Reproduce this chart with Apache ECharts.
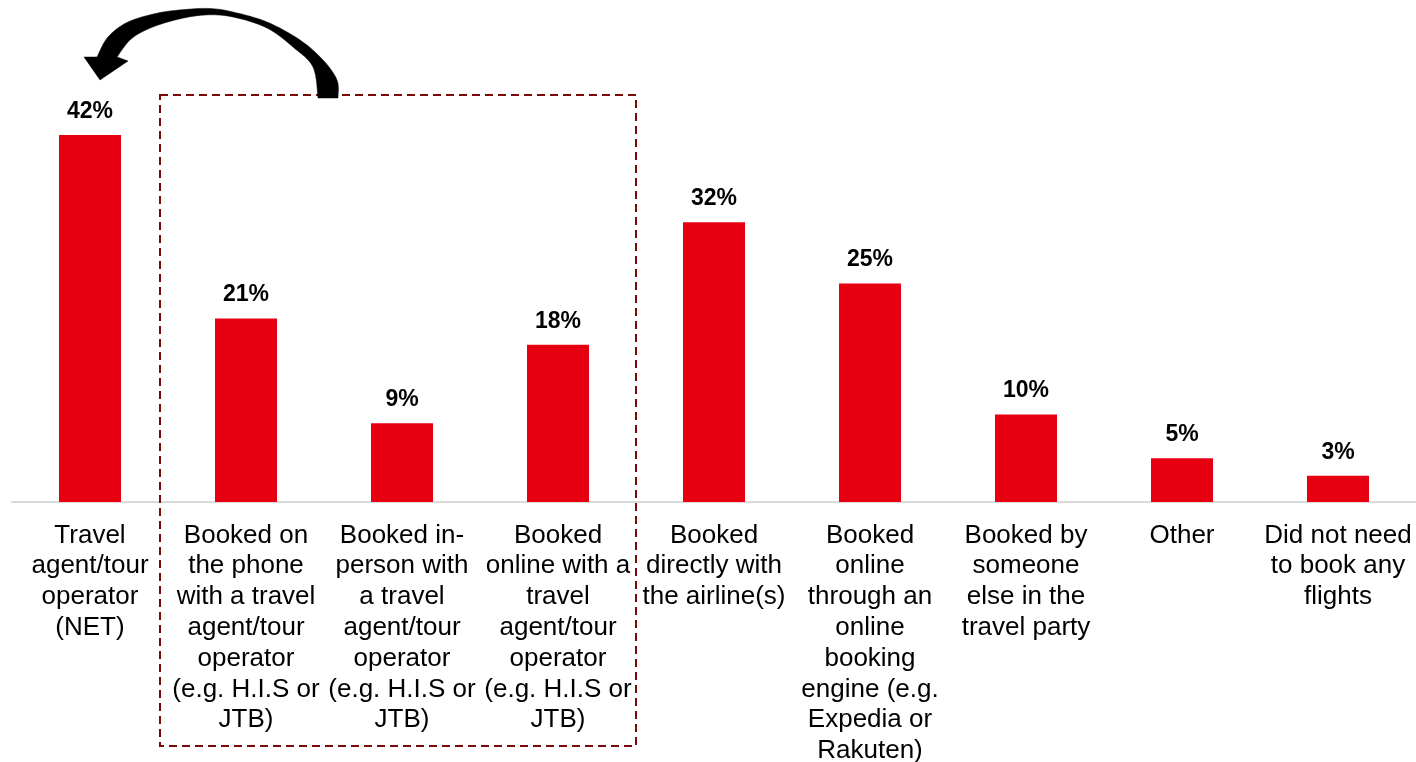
<!DOCTYPE html>
<html>
<head>
<meta charset="utf-8">
<script src="https://cdn.jsdelivr.net/npm/echarts@6/dist/echarts.min.js"></script>
<style>
  html, body { margin: 0; padding: 0; background: #ffffff; }
  #chart { width: 1416px; height: 762px; }
</style>
</head>
<body>
<div id="chart"></div>
<script>
// Booking channels for flights (share of respondents, %)
const categories = [
  'Travel\nagent/tour\noperator\n(NET)',
  'Booked on\nthe phone\nwith a travel\nagent/tour\noperator\n(e.g. H.I.S or\nJTB)',
  'Booked in-\nperson with\na travel\nagent/tour\noperator\n(e.g. H.I.S or\nJTB)',
  'Booked\nonline with a\ntravel\nagent/tour\noperator\n(e.g. H.I.S or\nJTB)',
  'Booked\ndirectly with\nthe airline(s)',
  'Booked\nonline\nthrough an\nonline\nbooking\nengine (e.g.\nExpedia or\nRakuten)',
  'Booked by\nsomeone\nelse in the\ntravel party',
  'Other',
  'Did not need\nto book any\nflights'
];
const shares = [42, 21, 9, 18, 32, 25, 10, 5, 3];

const FONT = '"Liberation Sans", Arial, sans-serif';
const chart = echarts.init(document.getElementById('chart'));

chart.setOption({
  animation: false,
  backgroundColor: '#ffffff',
  grid: {
    left: 12, right: 0, top: 65, bottom: 260,
    containLabel: false,
    outerBoundsMode: 'none'
  },
  xAxis: {
    type: 'category',
    data: categories,
    boundaryGap: true,
    axisLine: { show: true, lineStyle: { color: '#d9d9d9', width: 2 } },
    axisTick: { show: false },
    axisLabel: {
      interval: 0,
      margin: 18,
      color: '#000000',
      fontFamily: FONT,
      fontSize: 26,
      lineHeight: 30.8
    }
  },
  yAxis: {
    type: 'value',
    min: 0,
    max: 50,
    show: false,
    splitLine: { show: false }
  },
  series: [{
    type: 'bar',
    data: shares,
    barWidth: 62,
    itemStyle: { color: '#e60012' },
    label: {
      show: true,
      position: 'top',
      distance: 12,
      formatter: p => p.value + '%',
      color: '#000000',
      fontFamily: FONT,
      fontWeight: 'bold',
      fontSize: 23
    }
  }]
});

// Smooth a list of points with a Catmull-Rom spline
function spline(pts, steps) {
  const out = [];
  for (let i = 0; i < pts.length - 1; i++) {
    const p0 = pts[Math.max(i - 1, 0)], p1 = pts[i];
    const p2 = pts[i + 1], p3 = pts[Math.min(i + 2, pts.length - 1)];
    for (let s = 0; s < steps; s++) {
      const t = s / steps, t2 = t * t, t3 = t2 * t;
      out.push([0, 1].map(k => 0.5 * (
        2 * p1[k] + (-p0[k] + p2[k]) * t +
        (2 * p0[k] - 5 * p1[k] + 4 * p2[k] - p3[k]) * t2 +
        (-p0[k] + 3 * p1[k] - 3 * p2[k] + p3[k]) * t3)));
    }
  }
  out.push(pts[pts.length - 1]);
  return out;
}

// Curved arrow: outer edge, arrow head, inner edge back to the start
const outerEdge = [[338, 98], [337, 80], [323, 60], [300, 40], [267, 22], [233, 12],
  [210, 8.5], [185, 9.5], [158, 13], [128, 22], [108, 37], [97, 57]];
const arrowHead = [[84, 57], [100, 80], [128, 61]];
const innerEdge = [[117, 57], [130, 40], [148, 29], [175, 20], [205, 15], [233, 17],
  [267, 28], [293, 47], [313, 67], [318, 98]];
const arrowPts = spline(outerEdge, 8).concat(arrowHead).concat(spline(innerEdge, 8));

// Dashed frame around the three travel-agent sub-channels
const c1 = chart.convertToPixel({ xAxisIndex: 0 }, 1);
const c3 = chart.convertToPixel({ xAxisIndex: 0 }, 3);
const boxLeft = c1 - 86, boxRight = c3 + 78;

chart.setOption({
  graphic: [
    {
      type: 'rect',
      shape: { x: boxLeft, y: 95, width: boxRight - boxLeft, height: 651 },
      style: { fill: 'none', stroke: '#7a0a0a', lineWidth: 2, lineDash: [8, 5] },
      z: 10
    },
    {
      type: 'polygon',
      shape: { points: arrowPts },
      style: { fill: '#000000', stroke: '#000000', lineWidth: 0.5 },
      z: 11
    }
  ]
});
</script>
</body>
</html>
